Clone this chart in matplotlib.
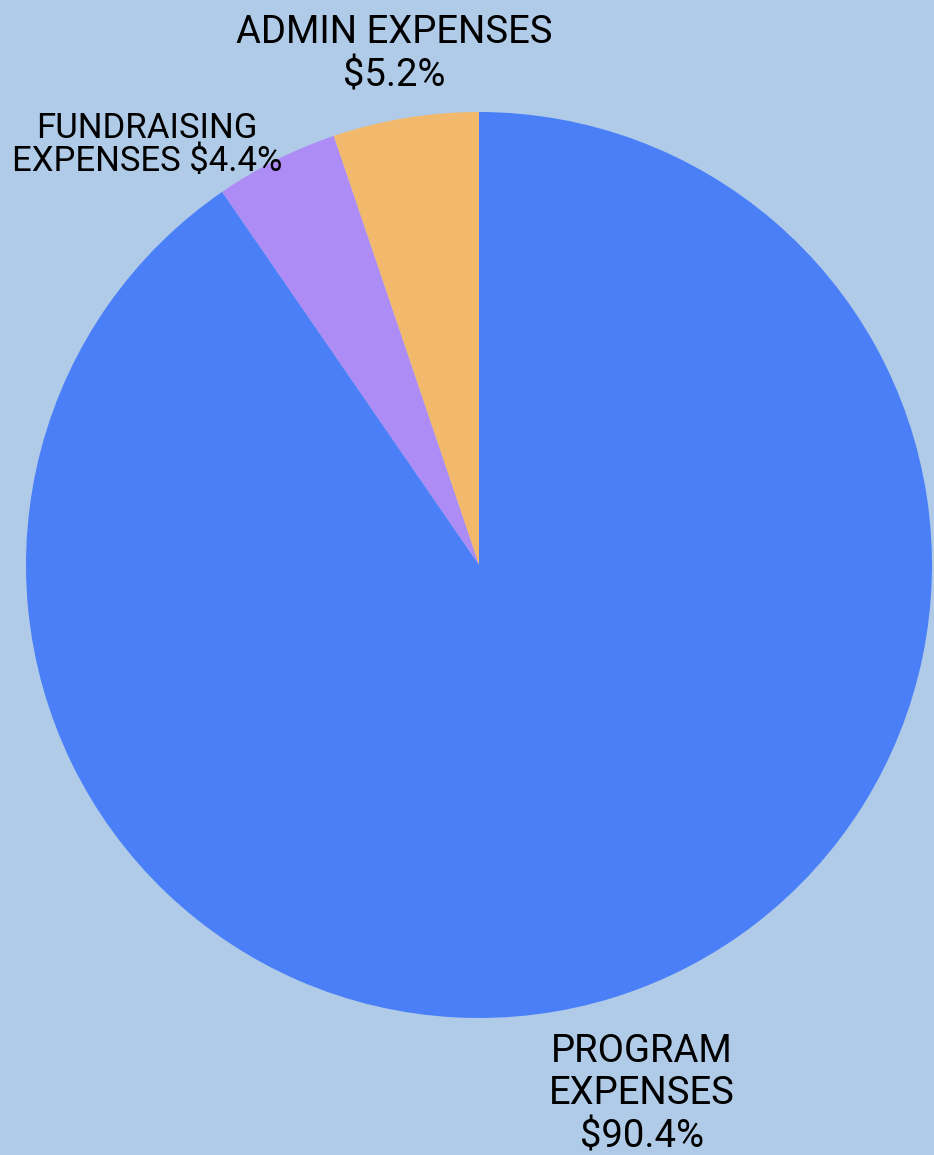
import matplotlib.pyplot as plt

# expense breakdown (percent of total)
categories = ["ADMIN EXPENSES", "FUNDRAISING EXPENSES", "PROGRAM EXPENSES"]
shares = [5.2, 4.4, 90.4]
colors = ["#F2B86C", "#AE8CF5", "#4A7FF7"]
label_texts = ["ADMIN EXPENSES\n$5.2%", "FUNDRAISING\nEXPENSES $4.4%", "PROGRAM\nEXPENSES\n$90.4%"]

bg = "#B0CBE8"
W, H = 934, 1155
cx, cy, r = 479, 565, 453  # pie centre / radius in pixels

plt.rcParams['font.family'] = ['Roboto', 'DejaVu Sans']

fig = plt.figure(figsize=(W / 100, H / 100), dpi=100)
fig.patch.set_facecolor(bg)
ax = fig.add_axes([0, 0, 1, 1])
ax.set_facecolor(bg)

ax.pie(shares, colors=colors, startangle=90, counterclock=True,
       radius=1.0, wedgeprops=dict(linewidth=0))
ax.set_aspect('equal')
ax.set_xlim(-cx / r, (W - cx) / r)
ax.set_ylim(-(H - cy) / r, cy / r)
ax.axis('off')

# labels placed around the pie
fig.text(394 / W, 1 - 54 / H, label_texts[0], ha='center', va='center',
         fontsize=27.5, linespacing=1.22, color='black')
fig.text(147 / W, 1 - 145 / H, label_texts[1], ha='center', va='center',
         fontsize=25, linespacing=1.0, color='black')
fig.text(642 / W, 1 - 1094 / H, label_texts[2], ha='center', va='center',
         fontsize=27.5, linespacing=1.2, color='black')

fig.savefig("out.png", dpi=100, facecolor=bg)
